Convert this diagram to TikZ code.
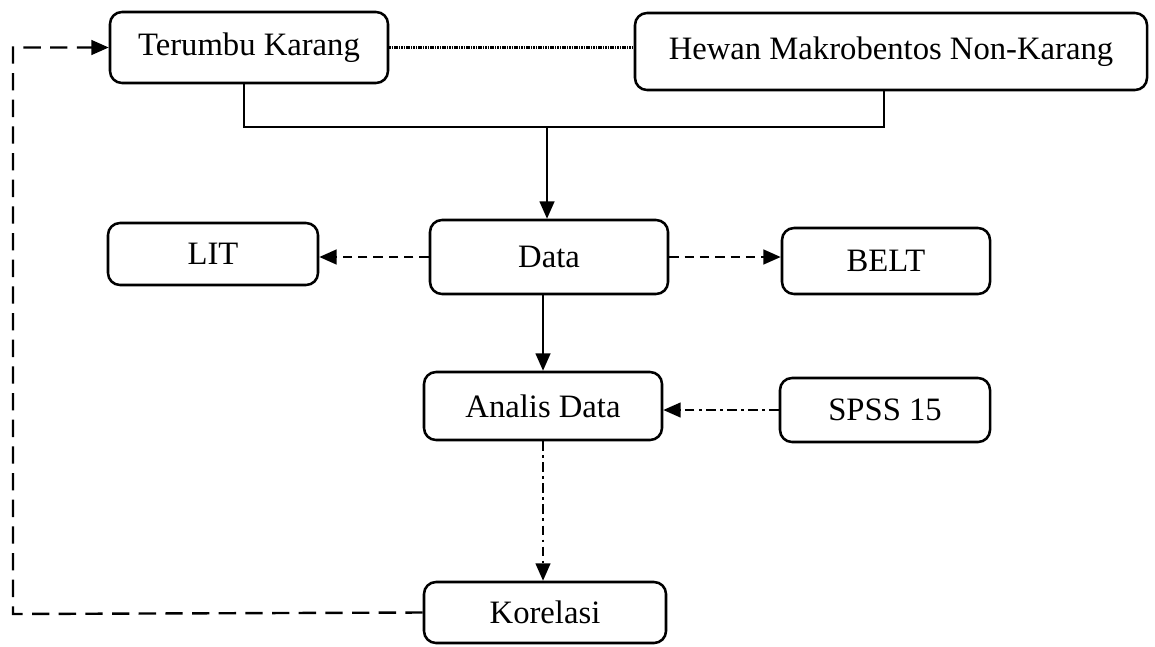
\documentclass[tikz,border=0pt]{standalone}
\usepackage{fontspec}
\setmainfont{Liberation Serif}
\usetikzlibrary{arrows.meta,calc}
\begin{document}
\begin{tikzpicture}[x=0.75pt,y=-0.75pt,
  box/.style={draw,line width=1.9pt,rounded corners=9pt,inner sep=0pt,
    font=\fontsize{24.5}{28}\selectfont},
  solidline/.style={line width=1.7pt},
  tip/.style={-{Triangle[length=13pt,width=11pt]}},
  longdash/.style={line width=1.8pt,dash pattern=on 13pt off 7pt},
  shortdash/.style={line width=1.8pt,dash pattern=on 7pt off 4.5pt},
  dashdot/.style={line width=1.6pt,dash pattern=on 7pt off 3.5pt on 1.8pt off 3.5pt},
  fine/.style={line width=1.8pt,dash pattern=on 1.2pt off 0.6pt}]
\useasboundingbox (0,0) rectangle (1155,646);
\node[box,minimum width=278*0.75pt,minimum height=71*0.75pt] (T) at (249,47.5) {Terumbu Karang};
\node[box,minimum width=512*0.75pt,minimum height=77*0.75pt] (H) at (891,51.5) {Hewan Makrobentos Non-Karang};
\node[box,minimum width=210*0.75pt,minimum height=62*0.75pt] (L) at (213,254) {LIT};
\node[box,minimum width=238*0.75pt,minimum height=74*0.75pt] (D) at (549,257) {Data};
\node[box,minimum width=208*0.75pt,minimum height=66*0.75pt] (B) at (886,261) {BELT};
\node[box,minimum width=238*0.75pt,minimum height=68*0.75pt] (A) at (543,406) {Analis Data};
\node[box,minimum width=210*0.75pt,minimum height=64*0.75pt] (S) at (885,410) {SPSS 15};
\node[box,minimum width=242*0.75pt,minimum height=61*0.75pt] (K) at (545,612.5) {Korelasi};
\coordinate (j) at (547,127);
\coordinate (lc) at (13,614);
\coordinate (ts) at ($(T.south)+(-5,0)$);
\coordinate (hs) at ($(H.south)+(-7,0)$);
% top connectors
\draw[fine] (T.east) -- (T.east -| H.west);
\draw[solidline] (ts) |- (j) -| (hs);
\draw[solidline,tip] (j) -- (j |- D.north);
% data side links
\draw[shortdash,tip] (D.west) -- (D.west -| L.east);
\draw[shortdash,tip] (D.east) -- (D.east -| B.west);
\draw[solidline,tip] (A.north |- D.south) -- (A.north);
\draw[dashdot,tip] (S.west) -- (S.west -| A.east);
\draw[dashdot,tip] (A.south) -- (A.south |- K.north);
% feedback loop
\draw[longdash,tip] (K.west) -- (lc) |- (T.west);
\end{tikzpicture}
\end{document}
